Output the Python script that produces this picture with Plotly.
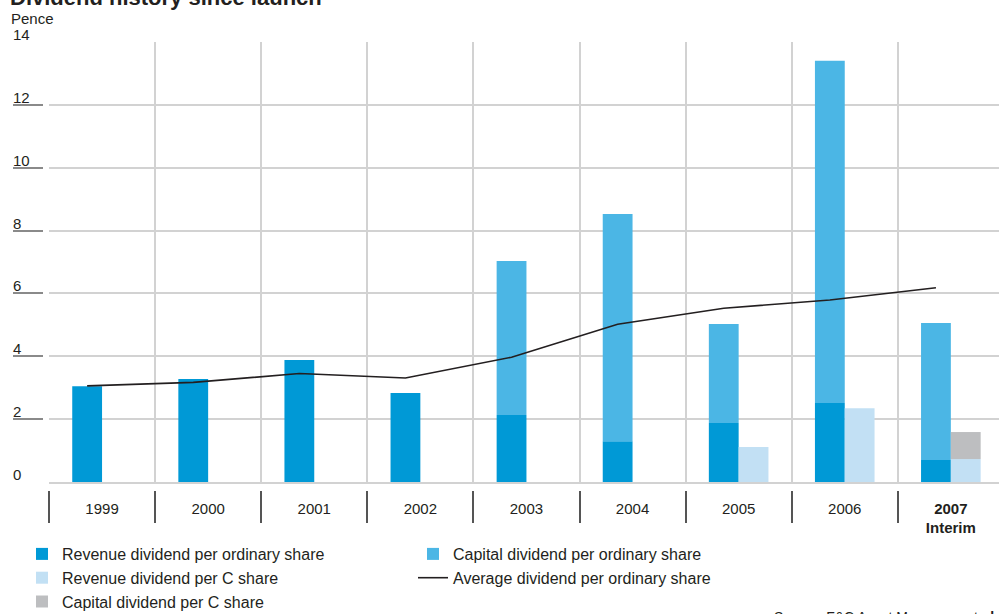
import plotly.graph_objects as go

# ---- data ----
years = ["1999", "2000", "2001", "2002", "2003", "2004", "2005", "2006", "2007"]
tick_labels = ["1999", "2000", "2001", "2002", "2003", "2004", "2005", "2006",
               "<b>2007</b><br><b>Interim</b>"]
rev_ord = [3.05, 3.28, 3.88, 2.83, 2.13, 1.30, 1.88, 2.51, 0.70]
cap_ord = [None, None, None, None, 4.90, 7.23, 3.15, 10.89, 4.36]
rev_c = [None, None, None, None, None, None, 1.11, 2.35, 0.73]
cap_c = [None, None, None, None, None, None, None, None, 0.86]
avg_ord = [3.06, 3.17, 3.45, 3.31, 3.97, 5.02, 5.53, 5.79, 6.18]
y_ticks = [0, 2, 4, 6, 8, 10, 12, 14]

# ---- style ----
W, H = 999, 614
ML, MT = 0, 42
BOTTOM_PX = 482
PLOT_L_PX = 49
CAT_PX = 106.1
BAR_W = 0.281
FONT = "Liberation Sans, Arial, Helvetica, sans-serif"
TXT = "#231F20"
GRID = "#D2D2D2"
C_REV_ORD = "#0099D6"
C_CAP_ORD = "#4BB6E5"
C_REV_C = "#C2E0F4"
C_CAP_C = "#BDBEC0"

paper_h = H - MT
ydom0 = (H - BOTTOM_PX) / paper_h
x0 = PLOT_L_PX / W
xr = [-0.5, -0.5 + (W - PLOT_L_PX) / CAT_PX]

def base_of(vals, under):
    return [u if v is not None else None for v, u in zip(vals, under)]

fig = go.Figure()
fig.add_trace(go.Bar(x=years, y=rev_ord, width=BAR_W, offset=-BAR_W,
                     marker=dict(color=C_REV_ORD, line=dict(width=0)),
                     name="Revenue dividend per ordinary share", legendrank=1))
fig.add_trace(go.Bar(x=years, y=cap_ord, base=base_of(cap_ord, rev_ord), width=BAR_W, offset=-BAR_W,
                     marker=dict(color=C_CAP_ORD, line=dict(width=0)),
                     name="Capital dividend per ordinary share", legendrank=2))
fig.add_trace(go.Bar(x=years, y=rev_c, width=BAR_W, offset=0,
                     marker=dict(color=C_REV_C, line=dict(width=0)),
                     name="Revenue dividend per C share", legendrank=3))
fig.add_trace(go.Bar(x=years, y=cap_c, base=base_of(cap_c, rev_c), width=BAR_W, offset=0,
                     marker=dict(color=C_CAP_C, line=dict(width=0)),
                     name="Capital dividend per C share", legendrank=5))
# invisible carrier so the separator axis (x2) and tick-mark axis (y2) get drawn
fig.add_trace(go.Scatter(x=years, y=avg_ord, xaxis="x2", yaxis="y2", mode="lines",
                         line=dict(width=0, color="rgba(0,0,0,0)"), opacity=0,
                         hoverinfo="skip", showlegend=False))
fig.add_trace(go.Scatter(x=years, y=avg_ord, xaxis="x3", yaxis="y", mode="lines",
                         line=dict(color=TXT, width=1.6),
                         name="Average dividend per ordinary share", legendrank=4))

cat_common = dict(type="category", categoryorder="array", categoryarray=years, range=xr)

# y tick labels sit above their underline marks, left aligned
y_label_annots = [
    dict(text=str(v), xref="paper", yref="y", x=11 / W, y=v,
         xanchor="left", yanchor="bottom", yshift=-3, showarrow=False,
         font=dict(size=15, color=TXT))
    for v in y_ticks
]

fig.update_layout(
    width=W, height=H,
    margin=dict(l=ML, r=0, t=MT, b=0, pad=0, autoexpand=False),
    paper_bgcolor="white", plot_bgcolor="white",
    barmode="overlay",
    font=dict(family=FONT, color=TXT, size=14),
    xaxis=dict(**cat_common, domain=[x0, 1], tickson="boundaries",
               showgrid=True, gridcolor=GRID, gridwidth=1.5,
               tickvals=years, ticktext=tick_labels, ticks="",
               ticklabelstandoff=12, tickfont=dict(size=15, color=TXT),
               showline=True, linecolor=GRID, linewidth=1.5, zeroline=False),
    xaxis2=dict(**cat_common, overlaying="x", anchor="free",
                position=(H - 490) / paper_h, tickson="boundaries",
                tickvals=years, ticks="outside", ticklen=32, tickwidth=1.5,
                tickcolor="#555555", showticklabels=False, showgrid=False,
                showline=False, zeroline=False),
    xaxis3=dict(type="category", categoryorder="array", categoryarray=years,
                range=[xr[0] + BAR_W / 2, xr[1] + BAR_W / 2],
                overlaying="x", anchor="y", visible=False),
    yaxis=dict(domain=[ydom0, 1], range=[0, 14], tickvals=y_ticks,
               showgrid=True, gridcolor=GRID, gridwidth=1.5,
               showticklabels=False, ticks="", zeroline=False, showline=False),
    yaxis2=dict(overlaying="y", anchor="free", position=12 / W, side="left",
                range=[0, 14], tickvals=y_ticks, ticks="inside", ticklen=30,
                tickwidth=1.5, tickcolor="#8A8A8A", showticklabels=False,
                showgrid=False, showline=False, zeroline=False),
    showlegend=True,
    legend=dict(orientation="h", x=22 / W, xanchor="left",
                y=(H - 537) / paper_h, yanchor="top",
                entrywidth=346, entrywidthmode="pixels",
                font=dict(size=16, color=TXT), bgcolor="rgba(0,0,0,0)",
                traceorder="normal"),
    annotations=y_label_annots + [
        dict(text="<b>Dividend history since launch</b>", xref="paper", yref="paper",
             x=8 / W, y=(H - 12) / paper_h, xanchor="left", yanchor="bottom",
             showarrow=False, font=dict(size=22, color=TXT)),
        dict(text="Pence", xref="paper", yref="paper",
             x=9 / W, y=(H - 18) / paper_h, xanchor="left", yanchor="middle",
             showarrow=False, font=dict(size=15, color=TXT)),
        dict(text="Source: F&C Asset Management <b>plc</b>", xref="paper", yref="paper",
             x=772 / W, y=(H - 607) / paper_h, xanchor="left", yanchor="top",
             showarrow=False, font=dict(size=14, color=TXT)),
    ],
)

fig.write_html("out.html")
